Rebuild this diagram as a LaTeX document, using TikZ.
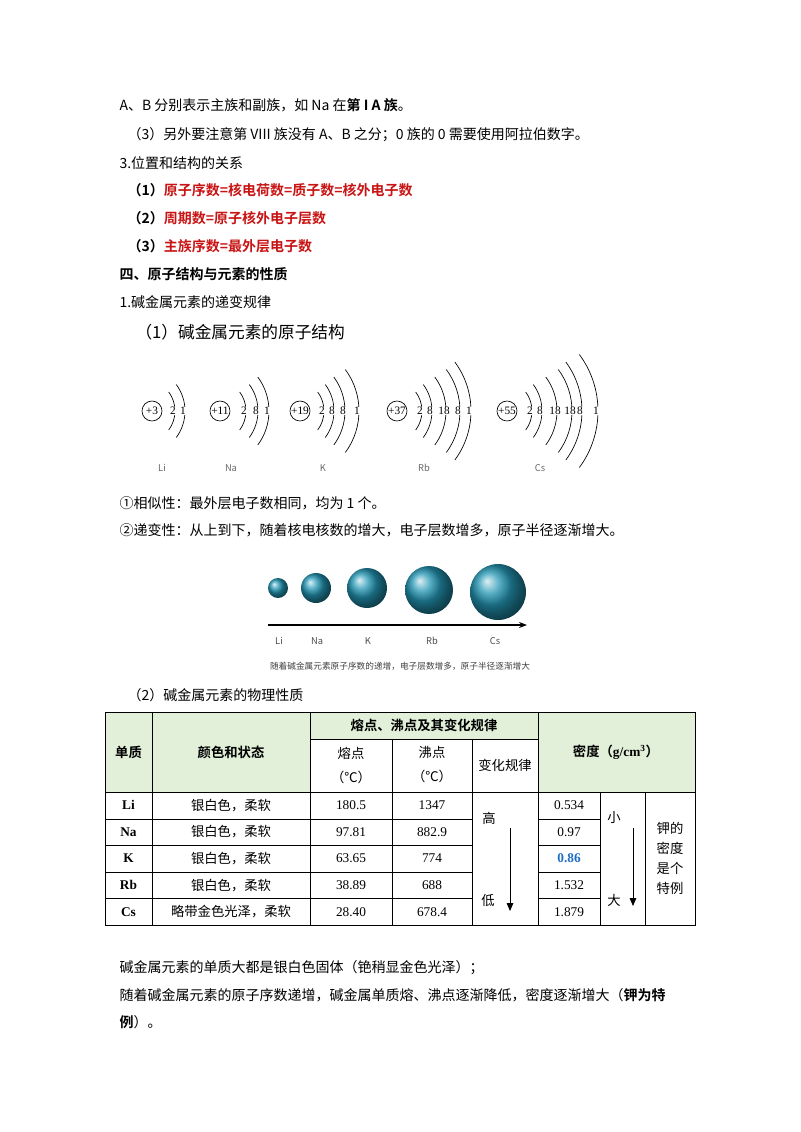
\documentclass[tikz,border=0pt]{standalone}
\usepackage{fontspec}
\setmainfont{Liberation Serif}
\newfontfamily\cjk{Noto Sans CJK SC}[BoldFont={Noto Sans CJK SC Bold}]
\usetikzlibrary{arrows.meta}
\definecolor{hdrgreen}{RGB}{226,239,217}
\definecolor{ballteal}{RGB}{35,150,180}
\definecolor{keyred}{RGB}{200,20,20}
\definecolor{kblue}{RGB}{30,110,200}
\tikzset{every picture/.style={line width=0.75pt}}
\tikzset{
  txt/.style={anchor=west,inner sep=0.75pt,font=\cjk\fontsize{10.5}{12}\selectfont},
  red/.style={txt,text=keyred,font=\cjk\bfseries\fontsize{10.5}{12}\selectfont},
  nuc/.style={circle,draw,line width=0.5pt,minimum size=15pt,inner sep=0pt,font=\fontsize{8.5}{9}\selectfont},
  shell/.style={fill=white,inner sep=0.4pt,font=\fontsize{8.5}{9}\selectfont},
  lbl/.style={text=black!60,font=\cjk\fontsize{7}{8}\selectfont},
  ball/.style={circle,shading=ball,ball color=ballteal,inner sep=0pt},
  cell/.style={font=\fontsize{10}{12}\selectfont},
  ccell/.style={font=\cjk\fontsize{10}{12}\selectfont},
  hcell/.style={font=\cjk\bfseries\fontsize{10}{12}\selectfont}
}
\begin{document}
\begin{tikzpicture}[x=0.75pt,y=0.75pt,yscale=-1,xscale=1]
\useasboundingbox (0,0) rectangle (800,1132);

% Text lines
\node [txt] (l1) at (118,105) {A、B 分别表示主族和副族，如 Na 在\textbf{第 I A 族}。};
\node [txt] (l2) at (126,135) {（3）另外要注意第 VIII 族没有 A、B 之分；0 族的 0 需要使用阿拉伯数字。};
\node [txt] (l3) at (118,163) {3.位置和结构的关系};
\node [red] (l4) at (126,190) {\textcolor{black}{（1）}原子序数=核电荷数=质子数=核外电子数};
\node [red] (l5) at (126,218) {\textcolor{black}{（2）}周期数=原子核外电子层数};
\node [red] (l6) at (126,246) {\textcolor{black}{（3）}主族序数=最外层电子数};
\node [txt,font=\cjk\bfseries\fontsize{10.5}{12}\selectfont] (l7) at (118,274) {四、原子结构与元素的性质};
\node [txt] (l8) at (118,302) {1.碱金属元素的递变规律};
\node [txt,font=\cjk\fontsize{12.5}{14}\selectfont] (l9) at (134,332) {（1）碱金属元素的原子结构};

% Atom structures
\foreach \nx/\zz/\shells/\nm/\lx in {152/+3/{173/2,183/1}/Li/162,
    220/+11/{244/2,256/8,267/1}/Na/231,
    300/+19/{322/2,332/8,343/8,357/1}/K/323,
    397/+37/{420/2,430/8,444/18,458/8,469/1}/Rb/424,
    507/+55/{530/2,540/8,555/18,570/18,580/8,596/1}/Cs/540}{
  \node [nuc] (n\nm) at (\nx,411) {\zz};
  \foreach \sx/\se [count=\i] in \shells {
    \pgfmathsetmacro\h{11.5+7.5*\i}
    \pgfmathsetmacro\s{0.33*\h}
    \pgfmathsetmacro\R{(\h*\h+\s*\s)/(2*\s)}
    \pgfmathsetmacro\a{asin(\h/\R)}
    \draw [line width=0.5pt] (\sx+2-\R,411) ++(-\a:\R) arc (-\a:\a:\R);
    \node [shell] at (\sx,411) {\se};
  }
  \node [lbl] (t\nm) at (\lx,468) {\nm};
}

\node [txt] (l10) at (118,503) {①相似性：最外层电子数相同，均为 1 个。};
\node [txt] (l11) at (118,530) {②递变性：从上到下，随着核电核数的增大，电子层数增多，原子半径逐渐增大。};

% Atomic radius spheres
\foreach \nm/\bx/\by/\br/\lx in {Li/278/588/10/279, Na/316/588/15/317, K/367/588/20/368, Rb/429/590/24/432, Cs/498/592/28/495}{
  \node [ball,minimum size=2*\br*0.75pt] (b\nm) at (\bx,\by) {};
  \node [lbl,text=black!70] (r\nm) at (\lx,641) {\nm};
}
\coordinate (a0) at (268,625);
\coordinate (a1) at (527,625);
\draw [-{Stealth[length=6pt]},line width=0.8pt] (a0) -- (a1);
\node [lbl,text=black!75,font=\cjk\fontsize{6.5}{8}\selectfont] (cap) at (400,666) {随着碱金属元素原子序数的递增，电子层数增多，原子半径逐渐增大};

\node [txt] (l12) at (126,695) {（2）碱金属元素的物理性质};

% Table
\fill [hdrgreen] (105,712) rectangle (695,792);
\fill [white] (310,739) rectangle (538,792);
\draw [line width=0.6pt] (105,712) rectangle (695,925);
\draw [line width=0.6pt] (105,792) -- (695,792);
\draw [line width=0.6pt] (310,739) -- (538,739);
\foreach \yy in {819,845,872,898}{
  \draw [line width=0.6pt] (105,\yy) -- (472,\yy);
  \draw [line width=0.6pt] (538,\yy) -- (600,\yy);
}
\foreach \xx in {152,310,538}{\draw [line width=0.6pt] (\xx,712) -- (\xx,925);}
\foreach \xx in {392,472}{\draw [line width=0.6pt] (\xx,739) -- (\xx,925);}
\foreach \xx in {600,645}{\draw [line width=0.6pt] (\xx,792) -- (\xx,925);}

\node [hcell] (h1) at (128.5,752) {单质};
\node [hcell] (h2) at (231,752) {颜色和状态};
\node [hcell] (h3) at (424,725) {熔点、沸点及其变化规律};
\node [hcell] (h4) at (616,752) {密度（\textrm{g/cm\textsuperscript{3}}）};
\node [ccell,align=center] (h5) at (351,765) {熔点\\[6pt]（℃）};
\node [ccell,align=center] (h6) at (432,765) {沸点\\[6pt]（℃）};
\node [ccell] (h7) at (505,765) {变化规律};

\foreach \el/\col/\mp/\bp/\dn [count=\r] in {Li/银白色，柔软/180.5/1347/0.534,
    Na/银白色，柔软/97.81/882.9/0.97,
    K/银白色，柔软/63.65/774/\textcolor{kblue}{\textbf{0.86}},
    Rb/银白色，柔软/38.89/688/1.532,
    Cs/略带金色光泽，柔软/28.40/678.4/1.879}{
  \pgfmathsetmacro\yy{792+26.6*\r-13.3}
  \node [cell,font=\bfseries\fontsize{10}{12}\selectfont] (e\r) at (128.5,\yy) {\el};
  \node [ccell] (c\r) at (231,\yy) {\col};
  \node [cell] (m\r) at (351,\yy) {\mp};
  \node [cell] (p\r) at (432,\yy) {\bp};
  \node [cell] (d\r) at (569,\yy) {\dn};
}
\node [ccell] (hi) at (489,818) {高};
\node [ccell] (lo) at (488,900) {低};
\coordinate (t0) at (510,828);
\coordinate (t1) at (510,911);
\draw [-{Triangle[length=6pt,width=5pt]},line width=0.6pt] (t0) -- (t1);
\node [ccell] (sm) at (614,818) {小};
\node [ccell] (bg) at (614,900) {大};
\coordinate (s0) at (633,828);
\coordinate (s1) at (633,906);
\draw [-{Triangle[length=6pt,width=5pt]},line width=0.6pt] (s0) -- (s1);
\node [ccell,align=center] (note) at (670,858) {钾的\\[3pt]密度\\[3pt]是个\\[3pt]特例};

% Closing text
\node [txt] (l13) at (118,968) {碱金属元素的单质大都是银白色固体（铯稍显金色光泽）；};
\node [txt] (l14) at (118,995) {随着碱金属元素的原子序数递增，碱金属单质熔、沸点逐渐降低，密度逐渐增大（\textbf{钾为特}};
\node [txt] (l15) at (118,1022) {\textbf{例}）。};

\end{tikzpicture}
\end{document}
